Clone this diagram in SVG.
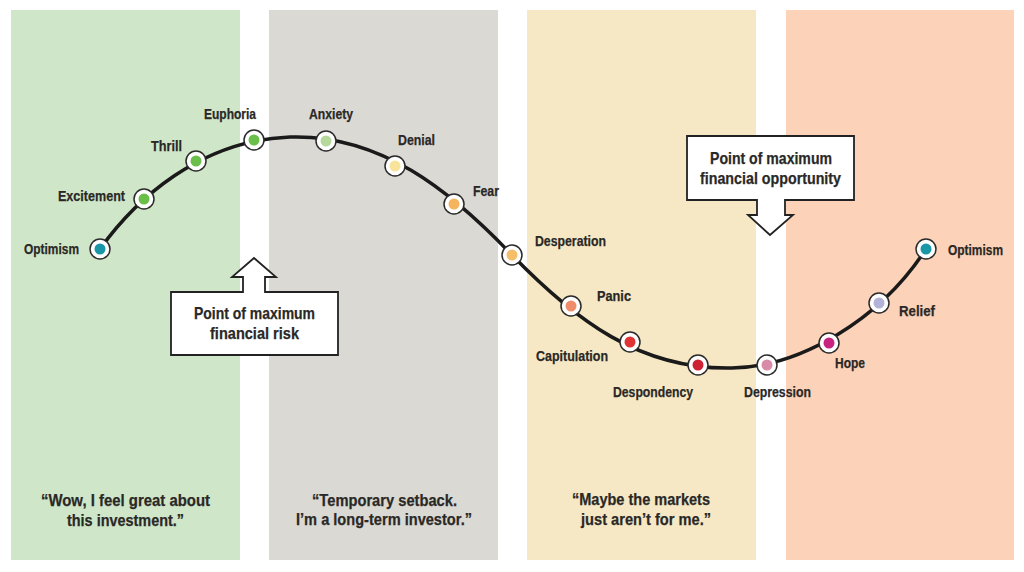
<svg xmlns="http://www.w3.org/2000/svg" width="1024" height="572" viewBox="0 0 1024 572">
<defs>
<style>
text{font-family:"Liberation Sans",Arial,sans-serif;font-weight:bold;fill:#2a2826;stroke:#2a2826;stroke-width:0.25}
.lbl{font-size:15px}
.box{font-size:17px}
.q{font-size:17px}
.ring{fill:#fff;stroke:#2a2a2a;stroke-width:1.5}
.call{fill:#fff;stroke:#222;stroke-width:1.8}
</style>
</defs>
<g id="panels">
<rect x="11" y="10" width="229" height="550" fill="#d0e6c9"/>
<rect x="269" y="10" width="229" height="550" fill="#dad9d4"/>
<rect x="527" y="10" width="229" height="550" fill="#f6e8c4"/>
<rect x="786" y="10" width="228" height="550" fill="#fcd2b9"/>
</g>
<g id="connectors">
<path d="M100,249 C135,200 200,140 290,137 C380,134 450,190 512,255 C575,320 640,370 732,368 C800,367 880,320 926,249" fill="none" stroke="#1a1a1a" stroke-width="3.5"/>
</g>
<g id="n-optimism1"><circle class="ring" cx="100" cy="249" r="10"/><circle cx="100" cy="249" r="5.5" fill="#1a97a6"/><text class="lbl" x="24" y="253.5" textLength="55" lengthAdjust="spacingAndGlyphs">Optimism</text></g>
<g id="n-excitement"><circle class="ring" cx="144" cy="199" r="10"/><circle cx="144" cy="199" r="5.5" fill="#6abf4b"/><text class="lbl" x="58" y="201" textLength="67" lengthAdjust="spacingAndGlyphs">Excitement</text></g>
<g id="n-thrill"><circle class="ring" cx="196" cy="161" r="10"/><circle cx="196" cy="161" r="5.5" fill="#6abf4b"/><text class="lbl" x="151" y="151" textLength="31" lengthAdjust="spacingAndGlyphs">Thrill</text></g>
<g id="n-euphoria"><circle class="ring" cx="254" cy="140" r="10"/><circle cx="254" cy="140" r="5.5" fill="#6abf4b"/><text class="lbl" x="204" y="118.5" textLength="52" lengthAdjust="spacingAndGlyphs">Euphoria</text></g>
<g id="n-anxiety"><circle class="ring" cx="326" cy="141" r="10"/><circle cx="326" cy="141" r="5.5" fill="#b5d99c"/><text class="lbl" x="309" y="119" textLength="44" lengthAdjust="spacingAndGlyphs">Anxiety</text></g>
<g id="n-denial"><circle class="ring" cx="395" cy="166" r="10"/><circle cx="395" cy="166" r="5.5" fill="#f7e39a"/><text class="lbl" x="398" y="145" textLength="37" lengthAdjust="spacingAndGlyphs">Denial</text></g>
<g id="n-fear"><circle class="ring" cx="454" cy="204" r="10"/><circle cx="454" cy="204" r="5.5" fill="#f5b55f"/><text class="lbl" x="473" y="196" textLength="26" lengthAdjust="spacingAndGlyphs">Fear</text></g>
<g id="n-desperation"><circle class="ring" cx="512" cy="255" r="10"/><circle cx="512" cy="255" r="5.5" fill="#f5bf6a"/><text class="lbl" x="535" y="246" textLength="71" lengthAdjust="spacingAndGlyphs">Desperation</text></g>
<g id="n-panic"><circle class="ring" cx="571" cy="306" r="10"/><circle cx="571" cy="306" r="5.5" fill="#ef8c6c"/><text class="lbl" x="597" y="301" textLength="34" lengthAdjust="spacingAndGlyphs">Panic</text></g>
<g id="n-capitulation"><circle class="ring" cx="630" cy="342" r="10"/><circle cx="630" cy="342" r="5.5" fill="#e03333"/><text class="lbl" x="536" y="361" textLength="72" lengthAdjust="spacingAndGlyphs">Capitulation</text></g>
<g id="n-despondency"><circle class="ring" cx="698" cy="365" r="10"/><circle cx="698" cy="365" r="5.5" fill="#cc2233"/><text class="lbl" x="613" y="397" textLength="80" lengthAdjust="spacingAndGlyphs">Despondency</text></g>
<g id="n-depression"><circle class="ring" cx="767" cy="365" r="10"/><circle cx="767" cy="365" r="5.5" fill="#d98aa8"/><text class="lbl" x="744" y="397" textLength="67" lengthAdjust="spacingAndGlyphs">Depression</text></g>
<g id="n-hope"><circle class="ring" cx="829" cy="343" r="10"/><circle cx="829" cy="343" r="5.5" fill="#c8237f"/><text class="lbl" x="835" y="368" textLength="30" lengthAdjust="spacingAndGlyphs">Hope</text></g>
<g id="n-relief"><circle class="ring" cx="879" cy="303" r="10"/><circle cx="879" cy="303" r="5.5" fill="#b3b3d9"/><text class="lbl" x="899" y="316" textLength="36" lengthAdjust="spacingAndGlyphs">Relief</text></g>
<g id="n-optimism2"><circle class="ring" cx="926" cy="249" r="10"/><circle cx="926" cy="249" r="5.5" fill="#1a97a6"/><text class="lbl" x="948" y="255" textLength="55" lengthAdjust="spacingAndGlyphs">Optimism</text></g>
<g id="risk">
<path class="call" d="M254,258 L276,277 L265,277 L265,292 L338,292 L338,355 L171,355 L171,292 L243,292 L243,277 L232,277 Z"/>
<text class="box" x="194" y="319" textLength="121" lengthAdjust="spacingAndGlyphs">Point of maximum</text>
<text class="box" x="210" y="339" textLength="89" lengthAdjust="spacingAndGlyphs">financial risk</text>
</g>
<g id="opportunity">
<path class="call" d="M687,136 L854,136 L854,200 L785,200 L785,215 L793,215 L770,235 L748,215 L757,215 L757,200 L687,200 Z"/>
<text class="box" x="710" y="164" textLength="122" lengthAdjust="spacingAndGlyphs">Point of maximum</text>
<text class="box" x="700" y="184" textLength="141" lengthAdjust="spacingAndGlyphs">financial opportunity</text>
</g>
<g id="quotes">
<text class="q" x="41" y="506" textLength="169" lengthAdjust="spacingAndGlyphs">“Wow, I feel great about</text>
<text class="q" x="67" y="526" textLength="117" lengthAdjust="spacingAndGlyphs">this investment.”</text>
<text class="q" x="312" y="506" textLength="145" lengthAdjust="spacingAndGlyphs">“Temporary setback.</text>
<text class="q" x="296" y="525" textLength="176" lengthAdjust="spacingAndGlyphs">I’m a long-term investor.”</text>
<text class="q" x="572" y="505" textLength="138" lengthAdjust="spacingAndGlyphs">“Maybe the markets</text>
<text class="q" x="581" y="525" textLength="130" lengthAdjust="spacingAndGlyphs">just aren’t for me.”</text>
</g>
</svg>
